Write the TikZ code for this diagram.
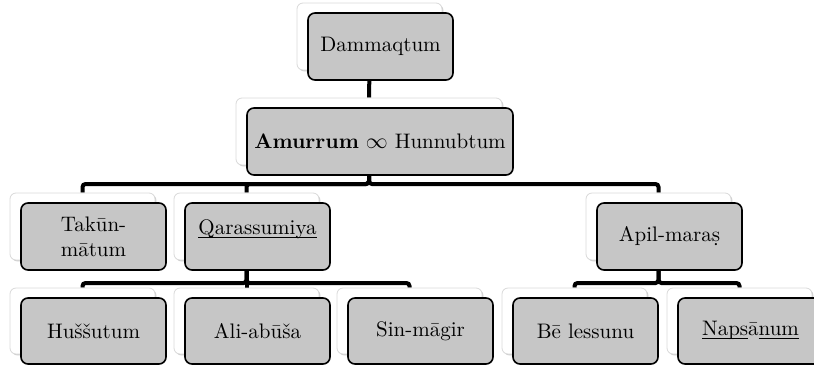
\documentclass[tikz,border=0pt]{standalone}
\usetikzlibrary{shadows,backgrounds}
\newcommand\ulword[1]{\underline{\smash{#1}}}
\begin{document}
\begin{tikzpicture}[x=0.5pt,y=-0.5pt,
    card/.style={rounded corners=3pt, fill=white, draw=gray!30, inner sep=0pt,
      minimum width=72.5pt, minimum height=33.5pt,
      drop shadow={opacity=0.4, shadow xshift=0.7pt, shadow yshift=-0.7pt}},
    tag/.style={rounded corners=3.5pt, fill=gray!45, draw=black, line width=0.8pt,
      inner sep=0pt, minimum width=72.5pt, minimum height=33.5pt, align=center,
      font=\fontsize{10.5}{12.5}\selectfont},
    link/.style={line width=2pt, rounded corners=1.5pt}]
  \clip (0,0) rectangle (814,365);

  \coordinate (bar1) at (369,184);
  \coordinate (bar2) at (246.5,283);
  \coordinate (bar3) at (658.5,283);

  % white cards
  \node[card] (dam) at (369.5,36.5) {};
  \node[card, minimum width=133pt] (amu) at (369,131.5) {};
  \node[card] (tak) at (82.5,226.5) {};
  \node[card] (qar) at (246.5,226.5) {};
  \node[card] (api) at (658.5,226.5) {};
  \node[card, minimum height=33pt] (hus) at (82.5,321) {};
  \node[card, minimum height=33pt] (ali) at (246.5,321) {};
  \node[card, minimum height=33pt] (sin) at (409.5,321) {};
  \node[card, minimum height=33pt] (bel) at (574.5,321) {};
  \node[card, minimum height=33pt] (nap) at (739.5,321) {};

  % connectors behind the cards
  \begin{scope}[on background layer]
    \draw[link] (dam.south) -- (amu.north);
    \foreach \c in {tak,qar,api}
      \draw[link] (amu.south) -- (amu.south |- bar1) -| (\c.north);
    \foreach \c in {hus,ali,sin}
      \draw[link] (qar.south) -- (qar.south |- bar2) -| (\c.north);
    \foreach \c in {bel,nap}
      \draw[link] (api.south) -- (api.south |- bar3) -| (\c.north);
  \end{scope}

  % grey labels
  \node[tag] (damT) at ([xshift=5.5pt,yshift=-5pt]dam.center) {Dammaqtum};
  \node[tag, minimum width=133pt] (amuT) at ([xshift=5.5pt,yshift=-5pt]amu.center)
    {\textbf{Amurrum} $\infty$ Hunnubtum};
  \node[tag] (takT) at ([xshift=5.5pt,yshift=-5pt]tak.center) {Takūn-\\mātum};
  \node[tag] (qarT) at ([xshift=5.5pt,yshift=-5pt]qar.center) {\ulword{Qarassumiya}};
  \node[tag] (apiT) at ([xshift=5.5pt,yshift=-5pt]api.center) {Apil-maraṣ};
  \node[tag, minimum height=33pt] (husT) at ([xshift=5.5pt,yshift=-5pt]hus.center) {Huššutum};
  \node[tag, minimum height=33pt] (aliT) at ([xshift=5.5pt,yshift=-5pt]ali.center) {Ali-abūša};
  \node[tag, minimum height=33pt] (sinT) at ([xshift=5.5pt,yshift=-5pt]sin.center) {Sin-māgir};
  \node[tag, minimum height=33pt] (belT) at ([xshift=5.5pt,yshift=-5pt]bel.center) {Bē lessunu};
  \node[tag, minimum height=33pt] (napT) at ([xshift=5.5pt,yshift=-5pt]nap.center)
    {\ulword{Naps}ā\ulword{num}};
\end{tikzpicture}
\end{document}
